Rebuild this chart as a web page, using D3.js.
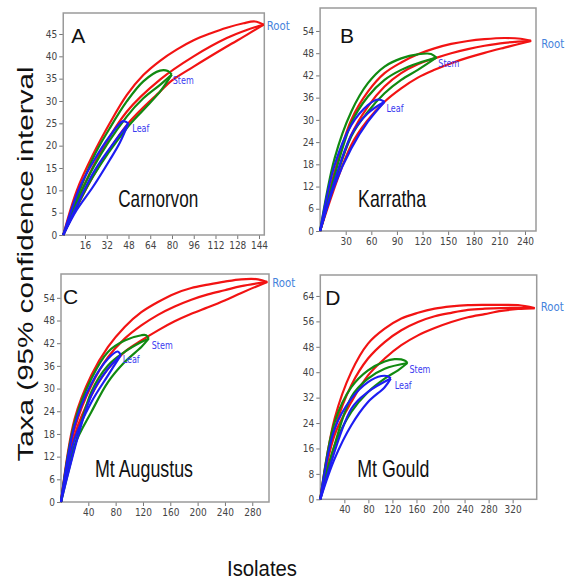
<html>
<head>
  <title>Rarefaction curves</title>
  <script src="https://d3js.org/d3.v7.min.js"></script>
  <style>
    body { margin: 0; background: white; }
  </style>
</head>
<body>
<script>
  // ---- data (isolates, taxa) ----
  const sites = ["Carnorvon", "Karratha", "Mt Augustus", "Mt Gould"];
  const letters = ["A", "B", "C", "D"];
  const tissues = ["Root", "Stem", "Leaf"];

  const carnXTicks = [16, 32, 48, 64, 80, 96, 112, 128, 144];
  const carnYTicks = [0, 5, 10, 15, 20, 25, 30, 35, 40, 45];
  const karrXTicks = [30, 60, 90, 120, 150, 180, 210, 240];
  const karrYTicks = [0, 6, 12, 18, 24, 30, 36, 42, 48, 54];
  const augXTicks = [40, 80, 120, 160, 200, 240, 280];
  const augYTicks = [0, 6, 12, 18, 24, 30, 36, 42, 48, 54];
  const gouldXTicks = [40, 80, 120, 160, 200, 240, 280, 320];
  const gouldYTicks = [0, 8, 16, 24, 32, 40, 48, 56, 64];

  // Carnorvon
  const carnRootUp = [[0,0],[9.9,9.9],[21.9,18.0],[34.2,25.0],[46.7,31.3],[58.9,35.8],[71.2,39.0],[83.4,41.5],[95.9,43.6],[108.1,45.1],[120.3,46.4],[132.6,47.4],[141,47.8],[147.5,47.1]];
  const carnRootMid = [[0,0],[21.9,15.3],[46.7,27.6],[71.2,34.8],[95.9,40.0],[120.3,44.1],[135,45.9],[147.5,47.1]];
  const carnRootLow = [[0,0],[21.9,13.1],[46.7,24.6],[71.2,32.1],[80,34.6],[95.9,37.7],[120.3,42.2],[135,44.8],[147.5,47.1]];
  const carnStemUp = [[0,0],[21.9,17.2],[34.2,23.9],[46.7,29.9],[58.9,34.4],[71.2,36.8],[77,36.7],[79.8,35.9]];
  const carnStemMid = [[0,0],[21.9,15.0],[46.7,26.5],[58.9,30.6],[71.2,33.6],[79.8,35.9]];
  const carnStemLow = [[0,0],[21.9,13.1],[46.7,23.9],[58.9,28.0],[71.2,32.1],[79.8,35.9]];
  const carnLeafUp = [[0,0],[12.3,10.8],[21.9,16.3],[34.2,22.1],[44,25.5],[47.9,25.0]];
  const carnLeafMid = [[0,0],[21.9,13.8],[34.2,19.4],[47.9,25.0]];
  const carnLeafLow = [[0,0],[9.9,5.6],[21.9,10.8],[34.2,16.8],[41.5,20.6],[47.9,25.0]];

  // Karratha
  const karrRootUp = [[0,0],[17,16.0],[36.5,30.0],[56,37.6],[75.5,42.6],[95,45.5],[114.5,47.7],[134,49.3],[153.6,50.5],[173.1,51.3],[192.6,51.8],[216,52.1],[235,51.9],[247.2,51.3]];
  const karrRootMid = [[0,0],[36.5,25.9],[56,33.6],[75.5,39.0],[95,42.6],[114.5,45.0],[134,46.6],[153.6,48.0],[173.1,49.1],[192.6,50.0],[216,50.8],[247.2,51.3]];
  const karrRootLow = [[0,0],[36.5,23.2],[56,30.0],[75.5,34.9],[95,38.5],[114.5,41.4],[134,43.5],[153.6,45.3],[173.1,46.8],[192.6,48.1],[216,49.5],[247.2,51.3]];
  const karrStemUp = [[0,0],[17,19.6],[36.5,32.2],[56,39.9],[75.5,44.4],[95,46.6],[114.5,47.7],[130,47.8],[136.2,46.8]];
  const karrStemMid = [[0,0],[36.5,29.1],[56,36.3],[75.5,40.8],[95,43.5],[114.5,45.3],[136.2,46.8]];
  const karrStemLow = [[0,0],[36.5,25.5],[56,32.2],[75.5,37.2],[95,40.8],[114.5,43.5],[136.2,46.8]];
  const karrLeafUp = [[0,0],[17,17.8],[36.5,28.6],[56,34.0],[67.7,35.5],[75.5,34.9]];
  const karrLeafMid = [[0,0],[36.5,25.9],[56,31.8],[75.5,34.9]];
  const karrLeafLow = [[0,0],[17,12.4],[36.5,22.3],[56,29.5],[75.5,34.9]];

  // Mt Augustus
  const augRootUp = [[0,0],[20,22.0],[44.4,33.5],[68.8,41.0],[93.2,46.3],[117.6,50.2],[142,52.9],[166.4,55.1],[190.8,56.6],[215.2,57.5],[239.6,58.3],[264,58.9],[288.4,58.9],[302,58.2]];
  const augRootMid = [[0,0],[20,19.4],[44.4,30.8],[68.8,38.3],[93.2,43.2],[117.6,46.7],[142,49.5],[166.4,51.7],[190.8,53.5],[215.2,54.9],[239.6,56.0],[264,57.1],[302,58.2]];
  const augRootLow = [[0,0],[20,17.6],[44.4,28.2],[68.8,35.2],[93.2,39.7],[117.6,42.7],[142,45.4],[166.4,47.8],[190.8,49.8],[215.2,51.5],[239.6,53.3],[264,55.3],[302,58.2]];
  const augStemUp = [[0,0],[20,21.1],[44.4,32.6],[68.8,39.7],[93.2,42.7],[117.6,44.1],[124.5,44.1],[128.4,43.2]];
  const augStemMid = [[0,0],[44.4,29.1],[68.8,36.1],[93.2,39.7],[117.6,42.3],[128.4,43.2]];
  const augStemLow = [[0,0],[20,15.0],[44.4,23.8],[68.8,31.7],[93.2,37.0],[117.6,41.0],[128.4,43.2]];
  const augLeafUp = [[0,0],[20,20.3],[44.4,31.3],[68.8,37.9],[83,39.8],[87.4,38.8]];
  const augLeafMid = [[0,0],[44.4,28.2],[68.8,35.2],[87.4,38.8]];
  const augLeafLow = [[0,0],[20,16.7],[44.4,26.4],[68.8,33.5],[87.4,38.8]];

  // Mt Gould
  const gouldRootUp = [[0,0],[23.9,25.4],[51.6,40.1],[79.4,49.0],[107.1,53.7],[134.8,56.9],[162.5,58.7],[190.3,60.0],[218,60.7],[245.7,61.1],[273.5,61.2],[301.2,61.2],[328.9,61.1],[356.6,60.2]];
  const gouldRootMid = [[0,0],[23.9,22.2],[51.6,35.9],[79.4,44.3],[107.1,49.5],[134.8,53.2],[162.5,55.8],[190.3,57.6],[218,58.7],[245.7,59.6],[273.5,60.0],[301.2,60.2],[356.6,60.2]];
  const gouldRootLow = [[0,0],[23.9,20.3],[51.6,30.6],[79.4,39.0],[107.1,44.3],[134.8,48.5],[162.5,51.6],[190.3,53.9],[218,55.8],[245.7,57.3],[273.5,58.3],[301.2,59.3],[328.9,59.9],[356.6,60.2]];
  const gouldStemUp = [[0,0],[23.9,24.3],[51.6,35.3],[79.4,40.6],[107.1,43.4],[123.7,44.1],[140.3,43.7],[144.9,42.9]];
  const gouldStemMid = [[0,0],[51.6,32.2],[79.4,38.0],[107.1,41.1],[144.9,42.9]];
  const gouldStemLow = [[0,0],[23.9,17.0],[51.6,27.5],[79.4,33.8],[107.1,38.0],[129.3,40.6],[144.9,42.9]];
  const gouldLeafUp = [[0,0],[23.9,22.2],[51.6,31.7],[79.4,36.9],[101.6,38.8],[112.6,38.7],[117.1,38.0]];
  const gouldLeafMid = [[0,0],[51.6,28.5],[79.4,33.8],[117.1,38.0]];
  const gouldLeafLow = [[0,0],[23.9,12.8],[51.6,23.3],[79.4,30.6],[107.1,35.3],[117.1,38.0]];

  // ---- layout ----
  const width = 567, height = 581;
  const colors = { Root: "#f21313", Stem: "#118a11", Leaf: "#1d1df2" };
  const labelColors = { Root: "#4683dc", Stem: "#3a3af0", Leaf: "#3a3af0" };
  const labelWidths = { Root: 23, Stem: 21, Leaf: 17 };
  const tickFont = "'Liberation Sans Narrow', 'DejaVu Sans Condensed', 'Liberation Sans', sans-serif";
  const textFont = "'Liberation Sans', Arial, sans-serif";

  const panels = [
    { box: [63.25, 264.3, 13, 235], xMax: 147.9, yMax: 49.7, xTicks: carnXTicks, yTicks: carnYTicks,
      curves: { Root: [carnRootUp, carnRootMid, carnRootLow], Stem: [carnStemUp, carnStemMid, carnStemLow], Leaf: [carnLeafUp, carnLeafMid, carnLeafLow] },
      lblOff: { Root: [3, 5], Stem: [1, 9], Leaf: [4, 9] }, site: [55, -28, 80], letter: [8, 43] },
    { box: [320.1, 536, 8, 231], xMax: 252.9, yMax: 60.2, xTicks: karrXTicks, yTicks: karrYTicks,
      curves: { Root: [karrRootUp, karrRootMid, karrRootLow], Stem: [karrStemUp, karrStemMid, karrStemLow], Leaf: [karrLeafUp, karrLeafMid, karrLeafLow] },
      lblOff: { Root: [10, 7], Stem: [2, 9], Leaf: [2, 10] }, site: [38, -24, 68], letter: [20, 43] },
    { box: [61, 269, 274, 502], xMax: 304.5, yMax: 60.3, xTicks: augXTicks, yTicks: augYTicks,
      curves: { Root: [augRootUp, augRootMid, augRootLow], Stem: [augStemUp, augStemMid, augStemLow], Leaf: [augLeafUp, augLeafMid, augLeafLow] },
      lblOff: { Root: [5, 5], Stem: [3, 10], Leaf: [2, 8] }, site: [34, -25, 98], letter: [2, 304] },
    { box: [320.3, 536.7, 275, 499.3], xMax: 360, yMax: 70.6, xTicks: gouldXTicks, yTicks: gouldYTicks,
      curves: { Root: [gouldRootUp, gouldRootMid, gouldRootLow], Stem: [gouldStemUp, gouldStemMid, gouldStemLow], Leaf: [gouldLeafUp, gouldLeafMid, gouldLeafLow] },
      lblOff: { Root: [6, 3], Stem: [2, 10], Leaf: [4, 10] }, site: [37, -22, 72], letter: [5, 305] }
  ];

  const svg = d3.select("body").append("svg")
    .attr("width", width)
    .attr("height", height);

  panels.forEach((p, i) => {
    const [x0, x1, y0, y1] = p.box;
    const x = d3.scaleLinear().domain([0, p.xMax]).range([x0, x1]);
    const y = d3.scaleLinear().domain([0, p.yMax]).range([y1, y0]);
    const g = svg.append("g");

    // axes
    const xAxis = g.append("g")
      .attr("transform", `translate(0,${y1})`)
      .call(d3.axisBottom(x).tickValues(p.xTicks).tickSize(4).tickSizeOuter(0).tickPadding(3));
    const yAxis = g.append("g")
      .attr("transform", `translate(${x0},0)`)
      .call(d3.axisLeft(y).tickValues(p.yTicks).tickSize(4).tickSizeOuter(0).tickPadding(2));
    [xAxis, yAxis].forEach(a => {
      a.select(".domain").remove();
      a.selectAll("line").attr("stroke", "#777");
      a.selectAll("text").attr("font-family", tickFont).attr("font-size", 10).attr("fill", "#444");
    });

    // frame
    g.append("rect")
      .attr("x", x0).attr("y", y0)
      .attr("width", x1 - x0).attr("height", y1 - y0)
      .attr("fill", "none")
      .attr("stroke", "#9a9a9a")
      .attr("stroke-width", 1.5);

    const line = d3.line()
      .x(d => x(d[0]))
      .y(d => y(d[1]))
      .curve(d3.curveCatmullRom.alpha(0.5));

    tissues.forEach(t => {
      p.curves[t].forEach(c => {
        g.append("path")
          .attr("d", line(c))
          .attr("fill", "none")
          .attr("stroke", colors[t])
          .attr("stroke-width", 2.2);
      });
    });

    tissues.forEach(t => {
      const end = p.curves[t][1][p.curves[t][1].length - 1];
      g.append("text")
        .attr("x", x(end[0]) + p.lblOff[t][0])
        .attr("y", y(end[1]) + p.lblOff[t][1])
        .attr("font-family", tickFont)
        .attr("font-size", t === "Root" ? 13 : 11)
        .attr("textLength", labelWidths[t])
        .attr("lengthAdjust", "spacingAndGlyphs")
        .attr("fill", labelColors[t])
        .text(t);
    });

    // panel letter and site name
    g.append("text")
      .attr("x", x0 + p.letter[0])
      .attr("y", p.letter[1])
      .attr("font-family", textFont)
      .attr("font-size", 21)
      .attr("fill", "#111")
      .text(letters[i]);

    g.append("text")
      .attr("x", x0 + p.site[0])
      .attr("y", y1 + p.site[1])
      .attr("font-family", textFont)
      .attr("font-size", 24)
      .attr("textLength", p.site[2])
      .attr("lengthAdjust", "spacingAndGlyphs")
      .attr("fill", "#111")
      .text(sites[i]);
  });

  // axis titles
  svg.append("text")
    .attr("transform", "translate(33,264) rotate(-90)")
    .attr("text-anchor", "middle")
    .attr("font-family", textFont)
    .attr("font-size", 22)
    .attr("textLength", 395)
    .attr("lengthAdjust", "spacingAndGlyphs")
    .attr("fill", "#111")
    .text("Taxa (95% confidence interval");

  svg.append("text")
    .attr("x", 227)
    .attr("y", 576)
    .attr("font-family", textFont)
    .attr("font-size", 22)
    .attr("textLength", 70)
    .attr("lengthAdjust", "spacingAndGlyphs")
    .attr("fill", "#111")
    .text("Isolates");
</script>
</body>
</html>
